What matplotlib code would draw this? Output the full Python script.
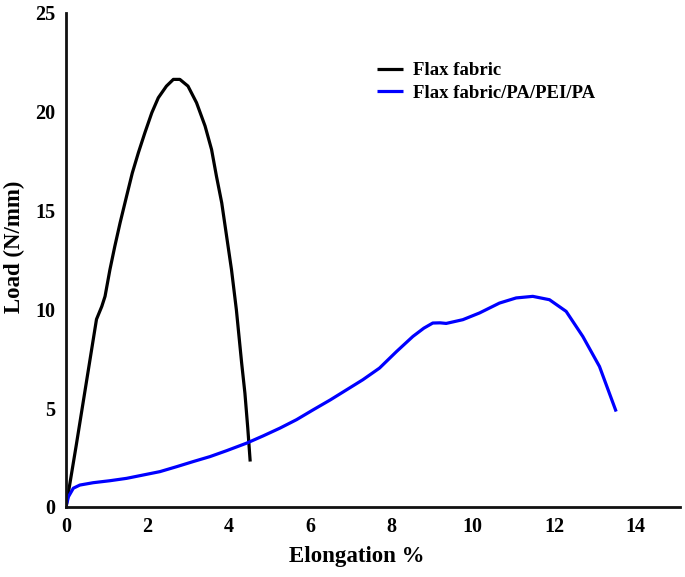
import matplotlib
matplotlib.use("Agg")
import matplotlib.pyplot as plt

# Data
flax_x = [0.0, 0.25, 0.5, 0.75, 0.88, 0.96, 1.08, 1.20, 1.33, 1.49, 1.63, 1.78, 1.94,
          2.11, 2.27, 2.47, 2.64, 2.80, 3.0, 3.21, 3.42, 3.58, 3.70, 3.83, 3.95, 4.07,
          4.19, 4.32, 4.40, 4.47, 4.53]
flax_y = [0.0, 3.1, 6.3, 9.5, 10.15, 10.66, 12.01, 13.19, 14.38, 15.73, 16.9, 17.93, 18.94,
          19.95, 20.71, 21.3, 21.64, 21.64, 21.3, 20.46, 19.28, 18.09, 16.74, 15.39, 13.7,
          12.01, 9.98, 7.28, 5.76, 4.0, 2.3]

comp_x = [0.0, 0.06, 0.18, 0.34, 0.67, 1.08, 1.49, 1.9, 2.31, 2.72, 3.13, 3.54, 3.95,
          4.44, 4.85, 5.26, 5.67, 6.08, 6.5, 6.9, 7.3, 7.71, 8.13, 8.53, 8.8, 9.02, 9.2,
          9.35, 9.76, 10.17, 10.66, 11.07, 11.48, 11.89, 12.3, 12.71, 13.12, 13.53]
comp_y = [0.0, 0.52, 0.95, 1.11, 1.23, 1.33, 1.45, 1.62, 1.79, 2.04, 2.3, 2.55, 2.85,
          3.23, 3.6, 3.99, 4.42, 4.92, 5.42, 5.93, 6.44, 7.03, 7.87, 8.63, 9.05, 9.31, 9.32,
          9.29, 9.48, 9.82, 10.32, 10.58, 10.66, 10.49, 9.9, 8.63, 7.11, 4.83]

labels = ["Flax fabric", "Flax fabric/PA/PEI/PA"]
x_ticks = [0, 2, 4, 6, 8, 10, 12, 14]
y_ticks = [0, 5, 10, 15, 20, 25]

plt.rcParams['font.family'] = ['Liberation Serif', 'DejaVu Serif']
plt.rcParams['font.weight'] = 'bold'

W, H = 685, 577
fig = plt.figure(figsize=(W / 100, H / 100), dpi=100)
ax = fig.add_axes([66 / W, 1 - 507 / H, 614 / W, 494 / H])

ax.plot(flax_x, flax_y, color='black', lw=2.3, label=labels[0],
        solid_joinstyle='round', solid_capstyle='butt')
ax.plot(comp_x, comp_y, color='#0000ff', lw=2.3, label=labels[1],
        solid_joinstyle='round', solid_capstyle='butt')

ax.set_xlim(0, 15.1)
ax.set_ylim(0, 25)
ax.set_xticks(x_ticks)
ax.set_yticks(y_ticks)
ax.tick_params(length=0, labelsize=14.5, pad=7.5)
for lab in ax.get_xticklabels() + ax.get_yticklabels():
    lab.set_fontweight('bold')

for s in ['top', 'right']:
    ax.spines[s].set_visible(False)
for s in ['left', 'bottom']:
    ax.spines[s].set_linewidth(2)
    ax.spines[s].set_color('#111111')

ax.set_xlabel("Elongation %", fontsize=16.5, fontweight='bold')
ax.set_ylabel("Load (N/mm)", fontsize=16.5, fontweight='bold')
ax.xaxis.set_label_coords(0.474, -0.079)
ax.yaxis.set_label_coords(-0.067, 0.526)

leg = ax.legend(loc='upper left', bbox_to_anchor=(377 / W, 1 - 62 / H),
                bbox_transform=fig.transFigure, frameon=False,
                prop={'size': 13.5, 'weight': 'bold'}, handlelength=1.39,
                handletextpad=0.53, labelspacing=0.3, borderpad=0, borderaxespad=0)

fig.savefig("out.png", dpi=100, facecolor='white')
